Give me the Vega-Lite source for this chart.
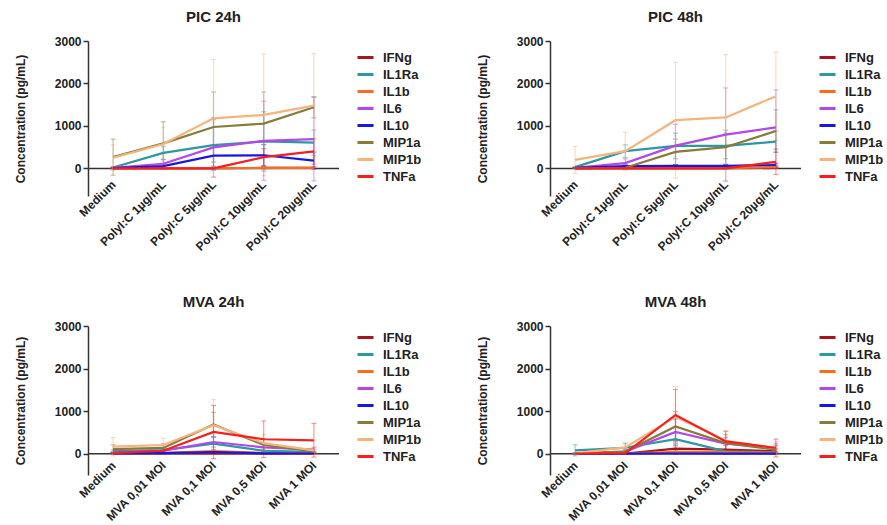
{
  "$schema": "https://vega.github.io/schema/vega-lite/v6.json",
  "background": "white",
  "padding": {"left": 14, "top": 10, "right": 0, "bottom": 0},
  "config": {
    "font": "Liberation Sans",
    "view": {"stroke": null},
    "axis": {"grid": false, "labelFont": "Liberation Sans", "labelFontWeight": "bold", "labelColor": "#222", "titleFont": "Liberation Sans", "titleFontWeight": "bold", "titleColor": "#222", "domainColor": "#333", "tickColor": "#333", "domainWidth": 1.5, "tickWidth": 1.5},
    "legend": {"orient": "none", "legendX": 268, "title": null, "symbolType": "stroke", "symbolStrokeWidth": 3, "symbolSize": 256, "symbolOpacity": 1, "labelFontSize": 13, "labelFontWeight": "bold", "labelFont": "Liberation Sans", "labelColor": "#222", "rowPadding": 0, "labelOffset": 8, "padding": 0},
    "title": {"fontSize": 15, "fontWeight": "bold", "color": "#222", "font": "Liberation Sans", "offset": 10}
  },
  "datasets": {
    "pic24": [
      {"cond": "Medium", "cyt": "IFNg", "mean": 5, "sd": 5},
      {"cond": "PolyI:C 1µg/mL", "cyt": "IFNg", "mean": 5, "sd": 5},
      {"cond": "PolyI:C 5µg/mL", "cyt": "IFNg", "mean": 5, "sd": 10},
      {"cond": "PolyI:C 10µg/mL", "cyt": "IFNg", "mean": 10, "sd": 20},
      {"cond": "PolyI:C 20µg/mL", "cyt": "IFNg", "mean": 15, "sd": 20},
      {"cond": "Medium", "cyt": "IL1Ra", "mean": 20, "sd": 20},
      {"cond": "PolyI:C 1µg/mL", "cyt": "IL1Ra", "mean": 365, "sd": 150},
      {"cond": "PolyI:C 5µg/mL", "cyt": "IL1Ra", "mean": 550, "sd": 600},
      {"cond": "PolyI:C 10µg/mL", "cyt": "IL1Ra", "mean": 635, "sd": 700},
      {"cond": "PolyI:C 20µg/mL", "cyt": "IL1Ra", "mean": 605, "sd": 300},
      {"cond": "Medium", "cyt": "IL1b", "mean": 0, "sd": 5},
      {"cond": "PolyI:C 1µg/mL", "cyt": "IL1b", "mean": 5, "sd": 10},
      {"cond": "PolyI:C 5µg/mL", "cyt": "IL1b", "mean": 5, "sd": 10},
      {"cond": "PolyI:C 10µg/mL", "cyt": "IL1b", "mean": 10, "sd": 20},
      {"cond": "PolyI:C 20µg/mL", "cyt": "IL1b", "mean": 10, "sd": 20},
      {"cond": "Medium", "cyt": "IL6", "mean": 15, "sd": 20},
      {"cond": "PolyI:C 1µg/mL", "cyt": "IL6", "mean": 110, "sd": 100},
      {"cond": "PolyI:C 5µg/mL", "cyt": "IL6", "mean": 495, "sd": 700},
      {"cond": "PolyI:C 10µg/mL", "cyt": "IL6", "mean": 650, "sd": 930},
      {"cond": "PolyI:C 20µg/mL", "cyt": "IL6", "mean": 690, "sd": 985},
      {"cond": "Medium", "cyt": "IL10", "mean": 5, "sd": 5},
      {"cond": "PolyI:C 1µg/mL", "cyt": "IL10", "mean": 55, "sd": 60},
      {"cond": "PolyI:C 5µg/mL", "cyt": "IL10", "mean": 300, "sd": 250},
      {"cond": "PolyI:C 10µg/mL", "cyt": "IL10", "mean": 310, "sd": 250},
      {"cond": "PolyI:C 20µg/mL", "cyt": "IL10", "mean": 185, "sd": 200},
      {"cond": "Medium", "cyt": "MIP1a", "mean": 265, "sd": 425},
      {"cond": "PolyI:C 1µg/mL", "cyt": "MIP1a", "mean": 590, "sd": 510},
      {"cond": "PolyI:C 5µg/mL", "cyt": "MIP1a", "mean": 975, "sd": 825},
      {"cond": "PolyI:C 10µg/mL", "cyt": "MIP1a", "mean": 1055, "sd": 745},
      {"cond": "PolyI:C 20µg/mL", "cyt": "MIP1a", "mean": 1440, "sd": 250},
      {"cond": "Medium", "cyt": "MIP1b", "mean": 250, "sd": 300},
      {"cond": "PolyI:C 1µg/mL", "cyt": "MIP1b", "mean": 575, "sd": 400},
      {"cond": "PolyI:C 5µg/mL", "cyt": "MIP1b", "mean": 1180, "sd": 1385},
      {"cond": "PolyI:C 10µg/mL", "cyt": "MIP1b", "mean": 1260, "sd": 1430},
      {"cond": "PolyI:C 20µg/mL", "cyt": "MIP1b", "mean": 1480, "sd": 1225},
      {"cond": "Medium", "cyt": "TNFa", "mean": 0, "sd": 5},
      {"cond": "PolyI:C 1µg/mL", "cyt": "TNFa", "mean": 0, "sd": 5},
      {"cond": "PolyI:C 5µg/mL", "cyt": "TNFa", "mean": 0, "sd": 10},
      {"cond": "PolyI:C 10µg/mL", "cyt": "TNFa", "mean": 265, "sd": 200},
      {"cond": "PolyI:C 20µg/mL", "cyt": "TNFa", "mean": 400, "sd": 300}
    ],
    "pic48": [
      {"cond": "Medium", "cyt": "IFNg", "mean": 5, "sd": 5},
      {"cond": "PolyI:C 1µg/mL", "cyt": "IFNg", "mean": 5, "sd": 5},
      {"cond": "PolyI:C 5µg/mL", "cyt": "IFNg", "mean": 5, "sd": 5},
      {"cond": "PolyI:C 10µg/mL", "cyt": "IFNg", "mean": 5, "sd": 5},
      {"cond": "PolyI:C 20µg/mL", "cyt": "IFNg", "mean": 10, "sd": 10},
      {"cond": "Medium", "cyt": "IL1Ra", "mean": 30, "sd": 20},
      {"cond": "PolyI:C 1µg/mL", "cyt": "IL1Ra", "mean": 405, "sd": 150},
      {"cond": "PolyI:C 5µg/mL", "cyt": "IL1Ra", "mean": 530, "sd": 300},
      {"cond": "PolyI:C 10µg/mL", "cyt": "IL1Ra", "mean": 530, "sd": 300},
      {"cond": "PolyI:C 20µg/mL", "cyt": "IL1Ra", "mean": 630, "sd": 250},
      {"cond": "Medium", "cyt": "IL1b", "mean": 5, "sd": 5},
      {"cond": "PolyI:C 1µg/mL", "cyt": "IL1b", "mean": 5, "sd": 5},
      {"cond": "PolyI:C 5µg/mL", "cyt": "IL1b", "mean": 5, "sd": 5},
      {"cond": "PolyI:C 10µg/mL", "cyt": "IL1b", "mean": 5, "sd": 5},
      {"cond": "PolyI:C 20µg/mL", "cyt": "IL1b", "mean": 30, "sd": 30},
      {"cond": "Medium", "cyt": "IL6", "mean": 15, "sd": 10},
      {"cond": "PolyI:C 1µg/mL", "cyt": "IL6", "mean": 125, "sd": 100},
      {"cond": "PolyI:C 5µg/mL", "cyt": "IL6", "mean": 535, "sd": 500},
      {"cond": "PolyI:C 10µg/mL", "cyt": "IL6", "mean": 795, "sd": 1100},
      {"cond": "PolyI:C 20µg/mL", "cyt": "IL6", "mean": 965, "sd": 885},
      {"cond": "Medium", "cyt": "IL10", "mean": 10, "sd": 10},
      {"cond": "PolyI:C 1µg/mL", "cyt": "IL10", "mean": 55, "sd": 30},
      {"cond": "PolyI:C 5µg/mL", "cyt": "IL10", "mean": 60, "sd": 30},
      {"cond": "PolyI:C 10µg/mL", "cyt": "IL10", "mean": 60, "sd": 30},
      {"cond": "PolyI:C 20µg/mL", "cyt": "IL10", "mean": 80, "sd": 40},
      {"cond": "Medium", "cyt": "MIP1a", "mean": 0, "sd": 5},
      {"cond": "PolyI:C 1µg/mL", "cyt": "MIP1a", "mean": 15, "sd": 20},
      {"cond": "PolyI:C 5µg/mL", "cyt": "MIP1a", "mean": 390, "sd": 300},
      {"cond": "PolyI:C 10µg/mL", "cyt": "MIP1a", "mean": 500, "sd": 400},
      {"cond": "PolyI:C 20µg/mL", "cyt": "MIP1a", "mean": 880, "sd": 500},
      {"cond": "Medium", "cyt": "MIP1b", "mean": 200, "sd": 315},
      {"cond": "PolyI:C 1µg/mL", "cyt": "MIP1b", "mean": 405, "sd": 450},
      {"cond": "PolyI:C 5µg/mL", "cyt": "MIP1b", "mean": 1135, "sd": 1365},
      {"cond": "PolyI:C 10µg/mL", "cyt": "MIP1b", "mean": 1200, "sd": 1480},
      {"cond": "PolyI:C 20µg/mL", "cyt": "MIP1b", "mean": 1700, "sd": 1040},
      {"cond": "Medium", "cyt": "TNFa", "mean": 0, "sd": 5},
      {"cond": "PolyI:C 1µg/mL", "cyt": "TNFa", "mean": 0, "sd": 5},
      {"cond": "PolyI:C 5µg/mL", "cyt": "TNFa", "mean": 0, "sd": 5},
      {"cond": "PolyI:C 10µg/mL", "cyt": "TNFa", "mean": 0, "sd": 5},
      {"cond": "PolyI:C 20µg/mL", "cyt": "TNFa", "mean": 155, "sd": 300}
    ],
    "mva24": [
      {"cond": "Medium", "cyt": "IFNg", "mean": 5, "sd": 5},
      {"cond": "MVA 0,01 MOI", "cyt": "IFNg", "mean": 5, "sd": 5},
      {"cond": "MVA 0,1 MOI", "cyt": "IFNg", "mean": 10, "sd": 10},
      {"cond": "MVA 0,5 MOI", "cyt": "IFNg", "mean": 10, "sd": 10},
      {"cond": "MVA 1 MOI", "cyt": "IFNg", "mean": 5, "sd": 5},
      {"cond": "Medium", "cyt": "IL1Ra", "mean": 60, "sd": 30},
      {"cond": "MVA 0,01 MOI", "cyt": "IL1Ra", "mean": 85, "sd": 40},
      {"cond": "MVA 0,1 MOI", "cyt": "IL1Ra", "mean": 235, "sd": 150},
      {"cond": "MVA 0,5 MOI", "cyt": "IL1Ra", "mean": 70, "sd": 40},
      {"cond": "MVA 1 MOI", "cyt": "IL1Ra", "mean": 45, "sd": 20},
      {"cond": "Medium", "cyt": "IL1b", "mean": 10, "sd": 10},
      {"cond": "MVA 0,01 MOI", "cyt": "IL1b", "mean": 20, "sd": 10},
      {"cond": "MVA 0,1 MOI", "cyt": "IL1b", "mean": 60, "sd": 40},
      {"cond": "MVA 0,5 MOI", "cyt": "IL1b", "mean": 20, "sd": 10},
      {"cond": "MVA 1 MOI", "cyt": "IL1b", "mean": 10, "sd": 10},
      {"cond": "Medium", "cyt": "IL6", "mean": 30, "sd": 20},
      {"cond": "MVA 0,01 MOI", "cyt": "IL6", "mean": 70, "sd": 40},
      {"cond": "MVA 0,1 MOI", "cyt": "IL6", "mean": 275, "sd": 120},
      {"cond": "MVA 0,5 MOI", "cyt": "IL6", "mean": 150, "sd": 80},
      {"cond": "MVA 1 MOI", "cyt": "IL6", "mean": 95, "sd": 50},
      {"cond": "Medium", "cyt": "IL10", "mean": 10, "sd": 5},
      {"cond": "MVA 0,01 MOI", "cyt": "IL10", "mean": 15, "sd": 10},
      {"cond": "MVA 0,1 MOI", "cyt": "IL10", "mean": 40, "sd": 20},
      {"cond": "MVA 0,5 MOI", "cyt": "IL10", "mean": 10, "sd": 5},
      {"cond": "MVA 1 MOI", "cyt": "IL10", "mean": 5, "sd": 5},
      {"cond": "Medium", "cyt": "MIP1a", "mean": 110, "sd": 100},
      {"cond": "MVA 0,01 MOI", "cyt": "MIP1a", "mean": 135, "sd": 100},
      {"cond": "MVA 0,1 MOI", "cyt": "MIP1a", "mean": 685, "sd": 285},
      {"cond": "MVA 0,5 MOI", "cyt": "MIP1a", "mean": 205, "sd": 150},
      {"cond": "MVA 1 MOI", "cyt": "MIP1a", "mean": 55, "sd": 50},
      {"cond": "Medium", "cyt": "MIP1b", "mean": 165, "sd": 215},
      {"cond": "MVA 0,01 MOI", "cyt": "MIP1b", "mean": 205, "sd": 155},
      {"cond": "MVA 0,1 MOI", "cyt": "MIP1b", "mean": 670, "sd": 605},
      {"cond": "MVA 0,5 MOI", "cyt": "MIP1b", "mean": 250, "sd": 200},
      {"cond": "MVA 1 MOI", "cyt": "MIP1b", "mean": 80, "sd": 80},
      {"cond": "Medium", "cyt": "TNFa", "mean": 15, "sd": 10},
      {"cond": "MVA 0,01 MOI", "cyt": "TNFa", "mean": 70, "sd": 40},
      {"cond": "MVA 0,1 MOI", "cyt": "TNFa", "mean": 510, "sd": 625},
      {"cond": "MVA 0,5 MOI", "cyt": "TNFa", "mean": 340, "sd": 430},
      {"cond": "MVA 1 MOI", "cyt": "TNFa", "mean": 315, "sd": 395}
    ],
    "mva48": [
      {"cond": "Medium", "cyt": "IFNg", "mean": 5, "sd": 5},
      {"cond": "MVA 0,01 MOI", "cyt": "IFNg", "mean": 5, "sd": 5},
      {"cond": "MVA 0,1 MOI", "cyt": "IFNg", "mean": 120, "sd": 130},
      {"cond": "MVA 0,5 MOI", "cyt": "IFNg", "mean": 95, "sd": 100},
      {"cond": "MVA 1 MOI", "cyt": "IFNg", "mean": 55, "sd": 60},
      {"cond": "Medium", "cyt": "IL1Ra", "mean": 80, "sd": 130},
      {"cond": "MVA 0,01 MOI", "cyt": "IL1Ra", "mean": 140, "sd": 110},
      {"cond": "MVA 0,1 MOI", "cyt": "IL1Ra", "mean": 340, "sd": 150},
      {"cond": "MVA 0,5 MOI", "cyt": "IL1Ra", "mean": 55, "sd": 40},
      {"cond": "MVA 1 MOI", "cyt": "IL1Ra", "mean": 30, "sd": 20},
      {"cond": "Medium", "cyt": "IL1b", "mean": 0, "sd": 5},
      {"cond": "MVA 0,01 MOI", "cyt": "IL1b", "mean": 0, "sd": 5},
      {"cond": "MVA 0,1 MOI", "cyt": "IL1b", "mean": 45, "sd": 40},
      {"cond": "MVA 0,5 MOI", "cyt": "IL1b", "mean": 40, "sd": 30},
      {"cond": "MVA 1 MOI", "cyt": "IL1b", "mean": 20, "sd": 20},
      {"cond": "Medium", "cyt": "IL6", "mean": 10, "sd": 10},
      {"cond": "MVA 0,01 MOI", "cyt": "IL6", "mean": 50, "sd": 40},
      {"cond": "MVA 0,1 MOI", "cyt": "IL6", "mean": 510, "sd": 300},
      {"cond": "MVA 0,5 MOI", "cyt": "IL6", "mean": 235, "sd": 150},
      {"cond": "MVA 1 MOI", "cyt": "IL6", "mean": 135, "sd": 100},
      {"cond": "Medium", "cyt": "IL10", "mean": 0, "sd": 2},
      {"cond": "MVA 0,01 MOI", "cyt": "IL10", "mean": 0, "sd": 2},
      {"cond": "MVA 0,1 MOI", "cyt": "IL10", "mean": 5, "sd": 5},
      {"cond": "MVA 0,5 MOI", "cyt": "IL10", "mean": 0, "sd": 2},
      {"cond": "MVA 1 MOI", "cyt": "IL10", "mean": 0, "sd": 2},
      {"cond": "Medium", "cyt": "MIP1a", "mean": 10, "sd": 10},
      {"cond": "MVA 0,01 MOI", "cyt": "MIP1a", "mean": 50, "sd": 40},
      {"cond": "MVA 0,1 MOI", "cyt": "MIP1a", "mean": 640, "sd": 350},
      {"cond": "MVA 0,5 MOI", "cyt": "MIP1a", "mean": 250, "sd": 200},
      {"cond": "MVA 1 MOI", "cyt": "MIP1a", "mean": 95, "sd": 100},
      {"cond": "Medium", "cyt": "MIP1b", "mean": 10, "sd": 10},
      {"cond": "MVA 0,01 MOI", "cyt": "MIP1b", "mean": 150, "sd": 80},
      {"cond": "MVA 0,1 MOI", "cyt": "MIP1b", "mean": 870, "sd": 705},
      {"cond": "MVA 0,5 MOI", "cyt": "MIP1b", "mean": 305, "sd": 225},
      {"cond": "MVA 1 MOI", "cyt": "MIP1b", "mean": 130, "sd": 150},
      {"cond": "Medium", "cyt": "TNFa", "mean": 5, "sd": 5},
      {"cond": "MVA 0,01 MOI", "cyt": "TNFa", "mean": 15, "sd": 10},
      {"cond": "MVA 0,1 MOI", "cyt": "TNFa", "mean": 910, "sd": 600},
      {"cond": "MVA 0,5 MOI", "cyt": "TNFa", "mean": 290, "sd": 240},
      {"cond": "MVA 1 MOI", "cyt": "TNFa", "mean": 135, "sd": 210}
    ]
  },
  "columns": 2,
  "spacing": {"row": 42, "column": 54},
  "resolve": {"scale": {"x": "independent", "y": "independent"}, "legend": {"color": "independent"}},
  "concat": [
    {
      "title": "PIC 24h",
      "width": 251, "height": 155,
      "data": {"name": "pic24"},
      "layer": [
        {"data": {"values": [{}]}, "mark": {"type": "rule", "color": "#333", "strokeWidth": 1.5}, "encoding": {"y": {"datum": 0, "type": "quantitative"}}},
        {"mark": {"type": "errorbar", "ticks": {"size": 5}, "opacity": 0.45, "thickness": 1.2},
         "encoding": {
           "x": {"field": "cond", "type": "nominal", "sort": ["Medium", "PolyI:C 1µg/mL", "PolyI:C 5µg/mL", "PolyI:C 10µg/mL", "PolyI:C 20µg/mL"]},
           "y": {"field": "mean", "type": "quantitative", "title": "Concentration (pg/mL)"},
           "yError": {"field": "sd"},
           "color": {"field": "cyt", "type": "nominal"}}},
        {"mark": {"type": "line", "strokeWidth": 2.2},
         "encoding": {
           "x": {"field": "cond", "type": "nominal", "sort": ["Medium", "PolyI:C 1µg/mL", "PolyI:C 5µg/mL", "PolyI:C 10µg/mL", "PolyI:C 20µg/mL"], "scale": {"type": "point", "padding": 0.5}, "title": null, "axis": {"domain": false, "ticks": false, "labelAngle": -45, "labelFontSize": 12, "labelPadding": -14, "labelOverlap": false, "labelBound": false}},
           "y": {"field": "mean", "type": "quantitative", "scale": {"domain": [-650, 3000], "nice": false, "zero": false}, "title": "Concentration (pg/mL)", "axis": {"domain": true, "values": [0, 1000, 2000, 3000], "format": "d", "labelFontSize": 12, "titleFontSize": 12, "tickSize": 5, "labelPadding": 2, "titlePadding": 27}},
           "color": {"field": "cyt", "type": "nominal", "scale": {"domain": ["IFNg", "IL1Ra", "IL1b", "IL6", "IL10", "MIP1a", "MIP1b", "TNFa"], "range": ["#a3161f", "#2b98a3", "#ff6b1c", "#b347ea", "#1717e0", "#877b3b", "#f5b47c", "#f61e1e"]}, "legend": {"legendY": 7}}}}
      ]
    },
    {
      "title": "PIC 48h",
      "width": 251, "height": 155,
      "data": {"name": "pic48"},
      "layer": [
        {"data": {"values": [{}]}, "mark": {"type": "rule", "color": "#333", "strokeWidth": 1.5}, "encoding": {"y": {"datum": 0, "type": "quantitative"}}},
        {"mark": {"type": "errorbar", "ticks": {"size": 5}, "opacity": 0.45, "thickness": 1.2},
         "encoding": {
           "x": {"field": "cond", "type": "nominal", "sort": ["Medium", "PolyI:C 1µg/mL", "PolyI:C 5µg/mL", "PolyI:C 10µg/mL", "PolyI:C 20µg/mL"]},
           "y": {"field": "mean", "type": "quantitative", "title": "Concentration (pg/mL)"},
           "yError": {"field": "sd"},
           "color": {"field": "cyt", "type": "nominal"}}},
        {"mark": {"type": "line", "strokeWidth": 2.2},
         "encoding": {
           "x": {"field": "cond", "type": "nominal", "sort": ["Medium", "PolyI:C 1µg/mL", "PolyI:C 5µg/mL", "PolyI:C 10µg/mL", "PolyI:C 20µg/mL"], "scale": {"type": "point", "padding": 0.5}, "title": null, "axis": {"domain": false, "ticks": false, "labelAngle": -45, "labelFontSize": 12, "labelPadding": -14, "labelOverlap": false, "labelBound": false}},
           "y": {"field": "mean", "type": "quantitative", "scale": {"domain": [-650, 3000], "nice": false, "zero": false}, "title": "Concentration (pg/mL)", "axis": {"domain": true, "values": [0, 1000, 2000, 3000], "format": "d", "labelFontSize": 12, "titleFontSize": 12, "tickSize": 5, "labelPadding": 2, "titlePadding": 27}},
           "color": {"field": "cyt", "type": "nominal", "scale": {"domain": ["IFNg", "IL1Ra", "IL1b", "IL6", "IL10", "MIP1a", "MIP1b", "TNFa"], "range": ["#a3161f", "#2b98a3", "#ff6b1c", "#b347ea", "#1717e0", "#877b3b", "#f5b47c", "#f61e1e"]}, "legend": {"legendY": 7}}}}
      ]
    },
    {
      "title": "MVA 24h",
      "width": 251, "height": 149,
      "data": {"name": "mva24"},
      "layer": [
        {"data": {"values": [{}]}, "mark": {"type": "rule", "color": "#333", "strokeWidth": 1.5}, "encoding": {"y": {"datum": 0, "type": "quantitative"}}},
        {"mark": {"type": "errorbar", "ticks": {"size": 5}, "opacity": 0.45, "thickness": 1.2},
         "encoding": {
           "x": {"field": "cond", "type": "nominal", "sort": ["Medium", "MVA 0,01 MOI", "MVA 0,1 MOI", "MVA 0,5 MOI", "MVA 1 MOI"]},
           "y": {"field": "mean", "type": "quantitative", "title": "Concentration (pg/mL)"},
           "yError": {"field": "sd"},
           "color": {"field": "cyt", "type": "nominal"}}},
        {"mark": {"type": "line", "strokeWidth": 2.2},
         "encoding": {
           "x": {"field": "cond", "type": "nominal", "sort": ["Medium", "MVA 0,01 MOI", "MVA 0,1 MOI", "MVA 0,5 MOI", "MVA 1 MOI"], "scale": {"type": "point", "padding": 0.5}, "title": null, "axis": {"domain": false, "ticks": false, "labelAngle": -45, "labelFontSize": 12, "labelPadding": -12, "labelOverlap": false, "labelBound": false}},
           "y": {"field": "mean", "type": "quantitative", "scale": {"domain": [-500, 3000], "nice": false, "zero": false}, "title": "Concentration (pg/mL)", "axis": {"domain": true, "values": [0, 1000, 2000, 3000], "format": "d", "labelFontSize": 12, "titleFontSize": 12, "tickSize": 5, "labelPadding": 2, "titlePadding": 27}},
           "color": {"field": "cyt", "type": "nominal", "scale": {"domain": ["IFNg", "IL1Ra", "IL1b", "IL6", "IL10", "MIP1a", "MIP1b", "TNFa"], "range": ["#a3161f", "#2b98a3", "#ff6b1c", "#b347ea", "#1717e0", "#877b3b", "#f5b47c", "#f61e1e"]}, "legend": {"legendY": 2}}}}
      ]
    },
    {
      "title": "MVA 48h",
      "width": 251, "height": 149,
      "data": {"name": "mva48"},
      "layer": [
        {"data": {"values": [{}]}, "mark": {"type": "rule", "color": "#333", "strokeWidth": 1.5}, "encoding": {"y": {"datum": 0, "type": "quantitative"}}},
        {"mark": {"type": "errorbar", "ticks": {"size": 5}, "opacity": 0.45, "thickness": 1.2},
         "encoding": {
           "x": {"field": "cond", "type": "nominal", "sort": ["Medium", "MVA 0,01 MOI", "MVA 0,1 MOI", "MVA 0,5 MOI", "MVA 1 MOI"]},
           "y": {"field": "mean", "type": "quantitative", "title": "Concentration (pg/mL)"},
           "yError": {"field": "sd"},
           "color": {"field": "cyt", "type": "nominal"}}},
        {"mark": {"type": "line", "strokeWidth": 2.2},
         "encoding": {
           "x": {"field": "cond", "type": "nominal", "sort": ["Medium", "MVA 0,01 MOI", "MVA 0,1 MOI", "MVA 0,5 MOI", "MVA 1 MOI"], "scale": {"type": "point", "padding": 0.5}, "title": null, "axis": {"domain": false, "ticks": false, "labelAngle": -45, "labelFontSize": 12, "labelPadding": -12, "labelOverlap": false, "labelBound": false}},
           "y": {"field": "mean", "type": "quantitative", "scale": {"domain": [-500, 3000], "nice": false, "zero": false}, "title": "Concentration (pg/mL)", "axis": {"domain": true, "values": [0, 1000, 2000, 3000], "format": "d", "labelFontSize": 12, "titleFontSize": 12, "tickSize": 5, "labelPadding": 2, "titlePadding": 27}},
           "color": {"field": "cyt", "type": "nominal", "scale": {"domain": ["IFNg", "IL1Ra", "IL1b", "IL6", "IL10", "MIP1a", "MIP1b", "TNFa"], "range": ["#a3161f", "#2b98a3", "#ff6b1c", "#b347ea", "#1717e0", "#877b3b", "#f5b47c", "#f61e1e"]}, "legend": {"legendY": 2}}}}
      ]
    }
  ]
}
